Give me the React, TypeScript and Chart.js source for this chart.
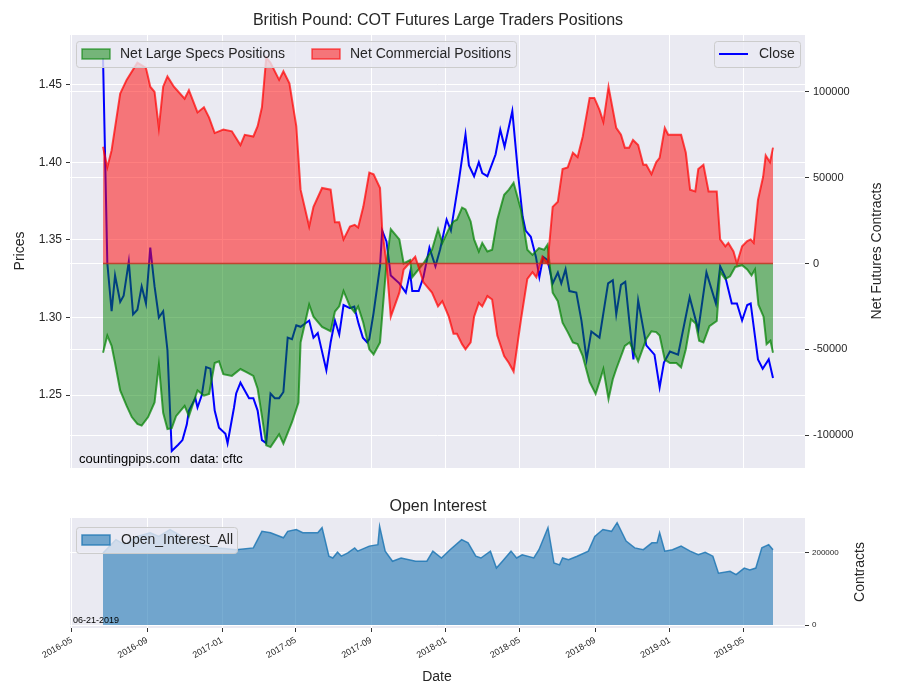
import React, { useEffect, useRef } from "react";
import { Chart, registerables } from "chart.js";
Chart.register(...registerables);

// x values: weeks since 2016-06-21
const commWeeks = [0,1,2,4,5.5,8,10,11,12,13,14,15,16.5,19,20,22,23.5,24.7,26,28,30,32,33,35,36,37,38,39,41,42,43.4,45,46,48,49,51,53,54,55,56,57.5,58.6,59.4,60.6,62,63,64.5,65,66,67,69,70,72.7,74.6,76.6,78,79,80.5,81.6,82.4,83.6,84.4,85.6,86.4,87.5,88.3,89.5,90.6,91.8,93.4,94.5,95.6,97.3,98.8,100,100.9,102.3,103.5,104.7,105.9,107,108.2,109.4,110.5,111.7,113.3,114.4,115.6,116.5,117.7,119.5,120.6,121.5,122.5,123.4,124.6,125.8,126.5,127.7,128.8,129.6,130.8,131.6,134.6,135.7,136.7,137.9,138.6,139.8,141,142.9,143.7,144.9,145.6,146.8,147.6,148.8,150,150.8,151.5,152.5,153.7,154.3,155.3,156];
const commValues = [68,56,66,99,107,117,114,103,100,79,103,109,103,96,101,88,91,85,76,78,77,69,75,74,80,91,120,117,107,112,105,80,43,21.5,33,44,43,24,24,14,21.5,22.5,21,33,53,52,44,20,0,-31,-17,-3.5,4,-11,-17,-25,-22,-31,-41,-41,-47,-50,-46,-31,-23,-25,-19,-21,-42,-54,-58,-63,-33,-9,-5,-8,4,0,33,36,55,56,64.5,62,74,96.5,96.5,89.5,82.5,103,79,75,67.5,67.5,72,69,57.5,57.5,52,59,61.5,79,75,75,64.5,43,42,55,57.5,42,42,14,10,12,7,0,10,13,14,12,37,50.5,63,59,67.5];

const specWeeks = [0,1,2,2.8,4,5.5,6.7,8,9,10.5,12,13,14,15,16,17,19,20,22,23.5,24.7,26,27,28,30,32,33.5,35,36,37,38,39,41,42,44,45.5,46,48,49,51,53,54,55,56,57.5,58.6,59.4,60.6,62,63,64.5,66,67,69,70,71.5,72,74.6,76.6,78,79,80.5,81.6,82.4,83.6,84.4,85.6,86.4,87.5,88.3,89.5,90.6,91.8,93.4,94.5,95.6,97.3,98.8,100,101.5,102.7,103.5,104.7,105.9,107,108.2,109.4,110.5,111.7,113.3,114.7,115.6,116.5,117.7,118.7,119.5,121.5,122.6,124.6,126.5,127.7,128.8,129.6,130.8,132,133.5,134.6,135.7,136.9,138,138.8,139.8,141.2,142.9,143.7,144.9,146,147.2,148.8,150,151,151.8,152.6,153.8,154.5,155.4,156];
const specValues = [-52,-42,-48,-58,-74,-83,-89.5,-93.5,-94.5,-89.5,-81,-59,-87,-96.5,-96,-89,-83,-89,-74,-77,-76,-58,-57,-64.5,-65.5,-61.5,-63.5,-65.5,-73,-89,-106,-107,-99.5,-105,-92.5,-81,-46,-24,-31,-37,-39.5,-28,-25,-16,-25,-28.5,-25,-34.5,-50,-53,-46,0,20,14,0,2,-8,0,8,20,12,20,24.5,25.5,32.5,31.5,24.5,14,7,12,7,8,25.5,40,43,47,31.5,8,5,9,8,11,-17,-22,-34.5,-40,-46,-47,-54,-69,-76,-69,-61.5,-79,-67.5,-61.5,-48,-46,-57,-44,-39.5,-40,-42,-56,-58,-58,-60.5,-50,-32.5,-35,-45,-46,-36.5,-33.5,-5,-9,-7.5,-2,-1,-3.5,-7,-3.5,-24,-31,-47,-45,-52];

const closeWeeks = [0,1,2,2.8,4,4.8,6,7,8,9,10,11,12,13,14,15,16,17.5,18.5,19.5,20,21.5,22,23,24,25,26,27,28.5,29,30.5,31,32,33,34,35,36,37,38,39,40,41,42,43,44,45,46,48,49,50,51,52,53,54,55,56,57.5,58.5,59.5,60.5,61.5,62,63,64.5,65,66,67,69,70.5,71.5,72,73.5,74.6,76,77.4,78.5,80,81,82.9,84.4,85.2,86.4,87.5,88.3,89.5,91.4,92.5,93.5,95.3,96.7,97.7,98.4,99.6,100.8,101.6,102.5,103.5,104.7,105.9,106.7,107.7,108.6,110.2,111.4,112.6,113.7,115.6,117.6,118.7,119.5,120.6,121.6,122.6,123.5,124.6,126.5,128.4,129.6,130.6,132,133.9,136.6,138.6,140.5,142.7,143.7,144.9,146.4,147.6,148.8,150,150.8,152.5,153.6,155,156];
const closeValues = [1.467,1.335,1.304,1.327,1.310,1.314,1.336,1.302,1.305,1.320,1.309,1.345,1.320,1.300,1.304,1.279,1.214,1.218,1.221,1.231,1.240,1.248,1.242,1.250,1.268,1.267,1.240,1.229,1.225,1.219,1.242,1.251,1.258,1.253,1.248,1.248,1.240,1.221,1.219,1.251,1.248,1.248,1.252,1.287,1.286,1.295,1.294,1.298,1.287,1.290,1.278,1.266,1.284,1.298,1.289,1.308,1.306,1.307,1.296,1.287,1.284,1.286,1.303,1.333,1.356,1.349,1.327,1.322,1.316,1.329,1.317,1.317,1.326,1.345,1.333,1.344,1.363,1.356,1.389,1.418,1.398,1.391,1.400,1.393,1.391,1.405,1.421,1.410,1.433,1.391,1.365,1.356,1.352,1.339,1.326,1.339,1.337,1.322,1.329,1.322,1.331,1.317,1.316,1.298,1.273,1.291,1.287,1.322,1.324,1.302,1.321,1.323,1.296,1.273,1.311,1.282,1.276,1.255,1.271,1.278,1.276,1.313,1.292,1.329,1.309,1.333,1.326,1.309,1.309,1.298,1.308,1.309,1.273,1.267,1.273,1.261];

const oiWeeks = [0,3,5,8,11,13,15.6,19,23,27,31,35,37,39,42,43,45,46.5,50,51,52.6,53.5,54.6,55.5,57,58.6,59.3,62,64,64.4,65.7,67.4,69.4,72.8,75.4,76.8,78.8,80.8,83.5,85,86.8,88,90.2,91.6,93,95,96.3,97.6,100.3,101.5,103.6,105,106.3,107,108.4,110.4,113,114.5,116.4,118.4,119.7,121.8,123.8,125.8,127.8,129,129.6,130.8,132.6,134.6,136.7,138.6,140.2,142,143.3,146,147.4,149.3,150.6,152,153.4,155,156];
const oiValues = [200,237,223,246,256,246,265,242,223,214,209,214,260,256,242,260,265,256,256,270,191,186,202,191,200,214,205,219,223,274,205,177,186,177,177,205,186,209,237,228,191,186,205,158,177,205,186,195,186,209,270,172,167,186,181,191,205,246,265,260,284,233,214,209,228,228,256,205,209,219,205,195,202,191,144,149,140,158,153,158,214,223,209];

const priceTicks = [1.25, 1.30, 1.35, 1.40, 1.45];
const contractTicks = [-100000, -50000, 0, 50000, 100000];
const oiTicks = [0, 200000];
const monthTicks = ["2016-05","2016-09","2017-01","2017-05","2017-09","2018-01","2018-05","2018-09","2019-01","2019-05"];

const START = Date.UTC(2016, 5, 21);
const monthToWeek = (m: string) => {
  const [y, mo] = m.split("-").map(Number);
  return (Date.UTC(y, mo - 1, 1) - START) / (7 * 86400000);
};
const X_MIN = -7.69, X_MAX = 163.45;
const FONT = "'Liberation Sans', Arial, sans-serif";
const BG = "#EAEAF2";
const TXT = "#262626";

const pts = (xs: number[], ys: number[], k = 1) => xs.map((x, i) => ({ x, y: ys[i] * k }));

const bgPlugin = {
  id: "bg",
  beforeDraw(c: any) {
    const { ctx, chartArea: a } = c;
    ctx.save();
    ctx.fillStyle = BG;
    ctx.fillRect(a.left, a.top, a.right - a.left, a.bottom - a.top);
    ctx.restore();
  },
};

function text(ctx: any, s: string, x: number, y: number, size: number, align = "center", rot = 0, color = TXT) {
  ctx.save();
  ctx.translate(x, y);
  ctx.rotate(rot);
  ctx.font = `${size}px ${FONT}`;
  ctx.fillStyle = color;
  ctx.textAlign = align;
  ctx.textBaseline = "middle";
  ctx.fillText(s, 0, 0);
  ctx.restore();
}
function box(ctx: any, x: number, y: number, w: number, h: number) {
  ctx.save();
  ctx.fillStyle = "rgba(234,234,242,0.8)";
  ctx.strokeStyle = "#cccccc";
  ctx.lineWidth = 1;
  ctx.beginPath();
  (ctx as any).roundRect(x + 0.5, y + 0.5, w, h, 3);
  ctx.fill();
  ctx.stroke();
  ctx.restore();
}
function patch(ctx: any, x: number, y: number, fill: string, stroke: string) {
  ctx.save();
  ctx.fillStyle = fill;
  ctx.strokeStyle = stroke;
  ctx.lineWidth = 1.5;
  ctx.fillRect(x, y, 28, 10);
  ctx.strokeRect(x, y, 28, 10);
  ctx.restore();
}

const topText = {
  id: "topText",
  afterDraw(c: any) {
    const ctx = c.ctx;
    text(ctx, "British Pound: COT Futures Large Traders Positions", 438, 21, 16);
    text(ctx, "Prices", 20, 251, 14, "center", -Math.PI / 2);
    text(ctx, "Net Futures Contracts", 877, 251, 14, "center", -Math.PI / 2);
    text(ctx, "countingpips.com", 79, 459, 13, "left", 0, "#000");
    text(ctx, "data: cftc", 190, 459, 13, "left", 0, "#000");
    box(ctx, 76, 41, 440, 26);
    patch(ctx, 82, 49, "rgba(0,128,0,0.5)", "rgba(0,128,0,0.6)");
    text(ctx, "Net Large Specs Positions", 120, 54, 14, "left");
    patch(ctx, 312, 49, "rgba(255,0,0,0.5)", "rgba(255,0,0,0.6)");
    text(ctx, "Net Commercial Positions", 350, 54, 14, "left");
    box(ctx, 714, 41, 86, 26);
    ctx.save();
    ctx.strokeStyle = "#0000ff";
    ctx.lineWidth = 2;
    ctx.beginPath();
    ctx.moveTo(719, 54);
    ctx.lineTo(748, 54);
    ctx.stroke();
    ctx.restore();
    text(ctx, "Close", 759, 54, 14, "left");
  },
};

const botText = {
  id: "botText",
  afterDraw(c: any) {
    const ctx = c.ctx;
    text(ctx, "Open Interest", 438, 27, 16);
    text(ctx, "Contracts", 860, 92, 14, "center", -Math.PI / 2);
    text(ctx, "Date", 437, 197, 14);
    text(ctx, "06-21-2019", 73, 141, 9, "left", 0, "#000");
    box(ctx, 76, 47, 161, 26);
    patch(ctx, 82, 55, "rgba(31,119,180,0.6)", "rgba(31,119,180,0.8)");
    text(ctx, "Open_Interest_All", 121, 60, 14, "left");
  },
};

const xScale = (showLabels: boolean, height: number) => ({
  type: "linear",
  min: X_MIN,
  max: X_MAX,
  border: { display: false },
  grid: { color: "#ffffff", lineWidth: 1, tickLength: showLabels ? 4 : 0, tickColor: "#333" },
  afterBuildTicks: (s: any) => { s.ticks = monthTicks.map((m) => ({ value: monthToWeek(m) })); },
  afterFit: (s: any) => { s.height = height; },
  ticks: {
    display: showLabels,
    autoSkip: false,
    maxRotation: 30,
    minRotation: 30,
    color: TXT,
    font: { size: 9, family: FONT },
    callback: (v: number) => {
      const d = new Date(START + v * 7 * 86400000 + 86400000 * 0.5);
      return `${d.getUTCFullYear()}-${String(d.getUTCMonth() + 1).padStart(2, "0")}`;
    },
  },
});

export default function App() {
  const r1 = useRef<HTMLCanvasElement>(null);
  const r2 = useRef<HTMLCanvasElement>(null);
  useEffect(() => {
    document.body.style.margin = "0";
    const c1 = new Chart(r1.current!, {
      type: "line",
      data: {
        datasets: [
          { label: "Close", data: pts(closeWeeks, closeValues), yAxisID: "yP", borderColor: "#0000ff", borderWidth: 2, pointRadius: 0, fill: false, order: 10 } as any,
          { label: "Net Large Specs Positions", data: pts(specWeeks, specValues, 1000), yAxisID: "yC", borderColor: "rgba(0,128,0,0.7)", backgroundColor: "rgba(0,128,0,0.5)", borderWidth: 2, pointRadius: 0, fill: "origin", order: 2 },
          { label: "Net Commercial Positions", data: pts(commWeeks, commValues, 1000), yAxisID: "yC", borderColor: "rgba(255,0,0,0.7)", backgroundColor: "rgba(255,0,0,0.5)", borderWidth: 2, pointRadius: 0, fill: "origin", order: 1 },
          { label: "zero", data: [{ x: 0, y: 0 }, { x: 156, y: 0 }], yAxisID: "yC", borderColor: "rgba(190,50,30,0.85)", borderWidth: 1.5, pointRadius: 0, fill: false, order: 0 },
        ],
      },
      options: {
        animation: false,
        responsive: false,
        events: [],
        layout: { padding: { top: 35, bottom: 12, left: 0, right: 0 } },
        plugins: { legend: { display: false }, tooltip: { enabled: false } },
        scales: {
          x: xScale(false, 0) as any,
          yP: {
            type: "linear", position: "left", min: 1.203, max: 1.482,
            border: { display: false },
            grid: { color: "#ffffff", tickColor: "#333", tickLength: 4 },
            afterBuildTicks: (s: any) => { s.ticks = priceTicks.map((v) => ({ value: v })); },
            afterFit: (s: any) => { s.width = 70; },
            ticks: { color: TXT, font: { size: 12, family: FONT }, padding: 4, callback: (v: number) => v.toFixed(2) },
          },
          yC: {
            type: "linear", position: "right", min: -119186, max: 133140,
            border: { display: false },
            grid: { color: "#ffffff", tickColor: "#333", tickLength: 4 },
            afterBuildTicks: (s: any) => { s.ticks = contractTicks.map((v) => ({ value: v })); },
            afterFit: (s: any) => { s.width = 95; },
            ticks: { color: TXT, font: { size: 11, family: FONT }, padding: 4, callback: (v: number) => String(v) },
          },
        },
      } as any,
      plugins: [bgPlugin, topText],
    });
    const c2 = new Chart(r2.current!, {
      type: "line",
      data: {
        datasets: [
          { label: "Open_Interest_All", data: pts(oiWeeks, oiValues, 1000), borderColor: "rgba(31,119,180,0.85)", backgroundColor: "rgba(31,119,180,0.6)", borderWidth: 1.5, pointRadius: 0, fill: "origin" },
        ],
      },
      options: {
        animation: false,
        responsive: false,
        events: [],
        layout: { padding: { top: 38, bottom: 0, left: 70, right: 0 } },
        plugins: { legend: { display: false }, tooltip: { enabled: false } },
        scales: {
          x: xScale(true, 72) as any,
          y: {
            type: "linear", position: "right", min: -8300, max: 297000,
            border: { display: false },
            grid: { color: "#ffffff", tickColor: "#333", tickLength: 4 },
            afterBuildTicks: (s: any) => { s.ticks = oiTicks.map((v) => ({ value: v })); },
            afterFit: (s: any) => { s.width = 95; },
            ticks: { color: TXT, font: { size: 8, family: FONT }, padding: 3, callback: (v: number) => String(v) },
          },
        },
      } as any,
      plugins: [bgPlugin, botText],
    });
    return () => { c1.destroy(); c2.destroy(); };
  }, []);
  return (
    <div style={{ position: "relative", width: 900, height: 700, background: "#fff" }}>
      <canvas ref={r1} width={900} height={480} style={{ position: "absolute", left: 0, top: 0, width: 900, height: 480 }} />
      <canvas ref={r2} width={900} height={220} style={{ position: "absolute", left: 0, top: 480, width: 900, height: 220 }} />
    </div>
  );
}
